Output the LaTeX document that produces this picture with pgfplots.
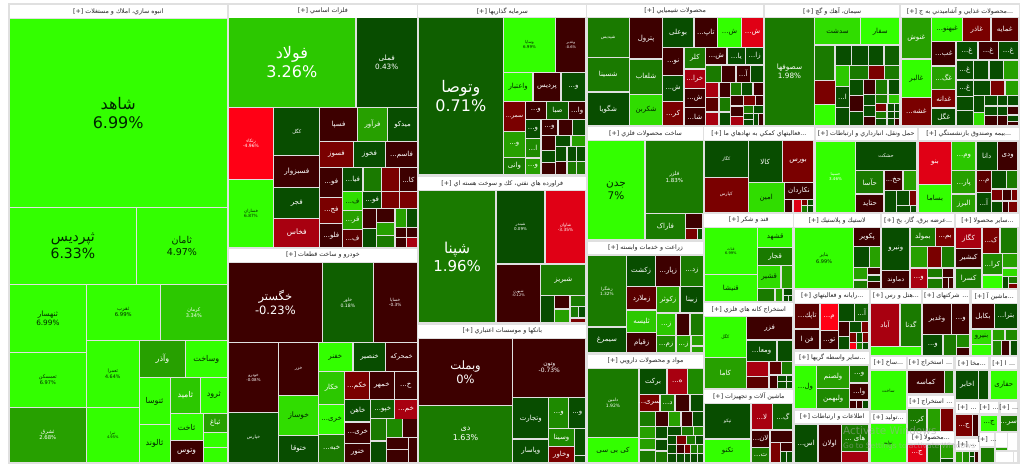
\documentclass[border=0pt]{standalone}
\usepackage{fontspec}
\usepackage{pgfplots}
\pgfplotsset{compat=1.18}
\setmainfont{DejaVu Sans}
\newfontfamily\fa[Script=Arabic]{DejaVu Sans}
\TeXXeTstate=1
\definecolor{a}{HTML}{33FF00}\colorlet{tx-a}{black!75!green!60!black}
\definecolor{w}{HTML}{33FF00}\colorlet{tx-w}{white}
\definecolor{h}{HTML}{30DD00}\colorlet{tx-h}{black!75!green!60!black}
\definecolor{b}{HTML}{2CC800}\colorlet{tx-b}{white}
\definecolor{c}{HTML}{27A000}\colorlet{tx-c}{white}
\definecolor{g}{HTML}{1E8A00}\colorlet{tx-g}{white}
\definecolor{d}{HTML}{1A7A00}\colorlet{tx-d}{white}
\definecolor{e}{HTML}{0F5F00}\colorlet{tx-e}{white}
\definecolor{f}{HTML}{084D00}\colorlet{tx-f}{white}
\definecolor{m}{HTML}{3D0000}\colorlet{tx-m}{white}
\definecolor{l}{HTML}{5A0000}\colorlet{tx-l}{white}
\definecolor{n}{HTML}{7A0000}\colorlet{tx-n}{white}
\definecolor{o}{HTML}{A80010}\colorlet{tx-o}{white}
\definecolor{r}{HTML}{E00015}\colorlet{tx-r}{white}
\definecolor{s}{HTML}{FF0015}\colorlet{tx-s}{white}
\definecolor{k}{HTML}{FFFFFF}\colorlet{tx-k}{black}
\newcommand\Rc[5]{\addplot[draw=none,fill=#5,forget plot] coordinates {(#1,#2)(#3,#2)(#3,#4)(#1,#4)} --cycle;}
\newcommand\Lb[7]{\node[text=tx-#5,inner sep=0pt,font=\fa\fontsize{#6}{#6}\selectfont] at (axis cs:{(#1+#3)/2},{(#2+#4)/2}) {\beginR #7\endR};}
\newcommand\Cp[9]{\Rc{#1}{#2}{#3}{#4}{#5}\node[text=tx-#5,inner sep=0pt,align=center,font=\fa\fontsize{#6}{#8}\selectfont] at (axis cs:{(#1+#3)/2},{(#2+#4)/2}) {\beginR #7\endR\\{\rmfamily #9}};}
\newcommand\Hd[5]{\Rc{#1}{#2}{#3}{#4}{k}\node[text=black!85,inner sep=0pt,font=\fa\fontsize{6.3}{7}\selectfont] at (axis cs:{(#1+#3)/2},{(#2+#4)/2}) {\beginR #5 \beginL{\rmfamily[+]}\endL\endR};}
\newcommand\Cl[7]{\Rc{#1}{#2}{#3}{#4}{#5}\Lb{#1}{#2}{#3}{#4}{#5}{#6}{#7}}
\begin{document}
\begin{tikzpicture}
\begin{axis}[scale only axis,width=1024pt,height=471pt,xmin=0,xmax=1024,ymin=0,ymax=471,y dir=reverse,hide axis,clip=true]
\Rc{0}{0}{1024}{471}{k}
\Rc{8}{3}{1020}{463.5}{black!12}
% group 1
\Hd{9.7}{5}{226.7}{18}{\beginR انبوه سازي، املاك و مستغلات\endR}
\Cp{9.7}{18.5}{226.7}{207}{a}{16}{شاهد}{19}{6.99\%}
\Cp{9.7}{208}{136}{283.5}{a}{14}{ثپردیس}{17}{6.33\%}
\Cp{137}{208}{226.7}{283.5}{a}{9.5}{ثامان}{12}{4.97\%}
\Cp{9.7}{284.5}{86}{352}{a}{7.3}{ثنهسار}{9}{6.99\%}
\Cp{9.7}{353}{86}{407}{a}{5}{ثعمسكن}{6}{6.97\%}
\Cp{9.7}{408}{86}{462}{c}{5.3}{ثشرق}{6.3}{2.68\%}
\Cp{87}{284.5}{159.5}{340}{a}{5.3}{ثقرب}{6.3}{6.99\%}
\Cp{161}{284.5}{226.7}{340}{b}{5}{كرمان}{6}{3.34\%}
\Cp{87}{341}{138.5}{407}{a}{4.8}{ثعمرا}{6}{4.64\%}
\Cp{87}{408}{138.5}{462}{a}{3.6}{ثبرا}{4.5}{4.95\%}
\Cl{140}{341}{185}{377}{c}{8}{وآذر}
\Cl{186}{341}{226.7}{377}{a}{8}{وساخت}
\Cl{139.5}{378}{169.5}{424}{a}{8}{ثنوسا}
\Cl{139.5}{425}{169.5}{462}{a}{8}{ثالوند}
\Cl{170.7}{378}{200}{413}{b}{8}{ثامید}
\Cl{201}{378}{226.7}{413}{a}{8}{ثرود}
\Cl{170.7}{414}{202.5}{440}{a}{8}{ثاخت}
\Cl{170.7}{441}{202.5}{462}{m}{7.5}{وتوس}
\Cl{203.7}{414}{226.7}{432}{c}{7}{ثباغ}
\Rc{203.7}{433}{226.7}{447}{a}
\Rc{203.7}{448}{226.7}{462}{a}
% metals
\Hd{228.7}{5}{417}{17.5}{\beginR فلزات اساسي\endR}
\Cp{228.7}{18.3}{355}{106.7}{b}{16}{فولاد}{19}{3.26\%}
\Cp{356.7}{18.3}{416.7}{106.7}{f}{7.3}{فملی}{9}{0.43\%}
\Cp{228.7}{108}{273.3}{179}{s}{4.5}{رتکاء}{5.5}{-4.96\%}
\Cp{228.7}{180}{273.3}{246.7}{a}{4.3}{فسازان}{5.3}{6.87\%}
\Cl{274.3}{108}{319.3}{155}{f}{5}{کگل}
\Cl{274.3}{156}{319.3}{186.7}{m}{7.2}{فسبزوار}
\Cl{274.3}{188}{319.3}{218.3}{f}{7.2}{فجر}
\Cl{274.3}{219.3}{319.3}{246.7}{o}{7.5}{فخاس}
\Cl{320.3}{108}{356.7}{140.7}{m}{7}{فسپا}
\Cl{357.7}{108}{387.3}{140.7}{c}{7}{فرآور}
\Cl{388.3}{108}{416.7}{140.7}{f}{7}{میدکو}
\Cl{320.3}{141.7}{352.7}{166.7}{n}{7}{فسوز}
\Cl{354}{141.7}{385.3}{166.7}{f}{7}{فخوز}
\Cl{386.3}{141.7}{416.7}{166.7}{m}{7}{فاسم...}
\Cl{320.3}{168}{342.3}{197}{m}{7}{فو...}
\Cl{320.3}{198.3}{342.3}{222.7}{n}{7}{فج...}
\Cl{320.3}{223.7}{342.3}{246.7}{m}{7}{فلو...}
\Cl{343.3}{168}{362.3}{191}{f}{7}{فیا...}
\Rc{363.7}{168}{381.3}{191}{d}
\Rc{382.3}{168}{398.7}{191}{n}
\Cl{400}{168}{416.7}{191}{m}{7}{کا...}
\Cl{343.3}{192}{361.7}{210}{h}{7}{ف...}
\Cl{363}{192}{381.3}{208}{f}{7}{فو...}
\Rc{382.3}{192}{398.7}{208}{n}
\Rc{400}{192}{416.7}{208}{n}
\Cl{343.3}{211.3}{361.7}{229.3}{c}{7}{قر...}
\Cl{343.3}{230.3}{361.7}{246.7}{l}{7}{ف...}
\Rc{362.7}{209.3}{376}{228.3}{m}
\Rc{362.7}{229.3}{376}{246.7}{f}
\Rc{377}{209}{394.3}{221.7}{m}
\Rc{377}{222.7}{394.3}{234.7}{c}
\Rc{377}{235.7}{394.3}{246.7}{d}
\Rc{395.7}{209}{406}{226.7}{c}
\Rc{407}{209}{416.7}{226.7}{f}
\Rc{395.7}{227.7}{406}{236.7}{m}
\Rc{407}{227.7}{416.7}{236.7}{m}
\Rc{395.7}{237.7}{406}{246.7}{m}
\Rc{407}{237.7}{416.7}{246.7}{o}
% auto
\Hd{228.7}{249}{417}{261.7}{\beginR خودرو و ساخت قطعات\endR}
\Cp{228.7}{262.7}{322}{342.3}{m}{11.5}{خگستر}{14}{-0.23\%}
\Cp{323}{262.7}{372.7}{342.3}{e}{4.6}{خاور}{5.6}{0.18\%}
\Cp{373.7}{262.7}{416.7}{342.3}{m}{4.3}{خساپا}{5.3}{-0.3\%}
\Cp{228.7}{343.3}{278.3}{412.3}{m}{4}{خودرو}{5}{-0.08\%}
\Cl{279.3}{343.3}{318}{395}{m}{4.5}{خزر}
\Cl{279.3}{396}{318}{435}{h}{7.5}{خوساز}
\Cl{279.3}{436}{318}{461.7}{f}{7}{ختوقا}
\Cl{228.7}{413.3}{278.3}{461.7}{f}{4.5}{خپارس}
\Cl{319}{343.3}{351.7}{370.7}{a}{7}{خفنر}
\Cl{353.7}{343.3}{385.3}{370.7}{f}{7}{خنصیر}
\Cl{386.3}{343.3}{416.7}{370.7}{m}{6.6}{خمحرکه}
\Cl{319}{371.7}{344.3}{403.7}{b}{7}{خکار}
\Cl{319}{405}{344.3}{433.7}{a}{7}{خری...}
\Cl{319}{435}{344.3}{461.7}{d}{7}{خبه...}
\Cl{345.3}{371.7}{368.7}{399}{n}{7}{خکم...}
\Cl{370}{371.7}{393.7}{399}{m}{7}{خمهر}
\Cl{394.7}{371.7}{416.7}{399}{m}{7}{خ...}
\Cl{345.3}{400}{370.3}{421.3}{f}{7}{خاهن}
\Cl{371.3}{400}{394.3}{418.3}{e}{7}{خپو...}
\Cl{395.3}{400}{416.7}{419}{o}{7}{خم...}
\Cl{345.3}{422.7}{370.3}{442.7}{m}{7}{خری...}
\Cl{345.3}{444}{370.3}{461.7}{m}{7}{خنور}
\Rc{371.3}{419.3}{386}{440.3}{d}
\Rc{371.3}{441.7}{386}{461.7}{f}
\Rc{387.3}{419.3}{401.7}{436.7}{g}
\Rc{402.7}{419.3}{416.7}{436.7}{m}
\Rc{387.3}{437.7}{407.7}{449}{m}
\Rc{387.3}{450.3}{407.7}{461.7}{m}
\Rc{408.7}{437.7}{416.7}{461.7}{m}
% investment
\Hd{418.3}{5}{586.3}{17.3}{\beginR سرمايه گذاريها\endR}
\Cp{419}{18.3}{502.7}{174.3}{e}{16}{وتوصا}{19}{0.71\%}
\Cp{504}{18.3}{555}{71.7}{a}{4}{وساپا}{5}{6.99\%}
\Cp{556.3}{18.3}{585.3}{71.7}{m}{3.6}{وغدیر}{4.5}{-0.6\%}
\Cl{504}{73.3}{532.3}{101}{a}{7}{واعتبار}
\Cl{533.7}{73.3}{560.3}{101}{m}{7}{پردیس}
\Cl{561.7}{73.3}{585.3}{101}{f}{7}{و...}
\Cl{504}{102.3}{524.7}{131}{n}{6}{سمر...}
\Cl{525.7}{102.3}{546}{119}{m}{7}{و...}
\Cl{547.3}{102.3}{567.7}{119}{e}{7}{صبا}
\Cl{569}{102.3}{585.3}{119}{m}{7}{وا...}
\Cl{525.7}{120}{540.3}{138}{f}{7}{و...}
\Cl{541.7}{120}{557.3}{135}{m}{7}{و...}
\Rc{558.7}{120}{571.7}{135}{m}
\Rc{572.7}{120}{585.3}{135}{f}
\Cl{504}{132.3}{524.7}{156.7}{c}{7}{و...}
\Cl{504}{157.7}{524.7}{174.3}{d}{7}{وانی}
\Cl{525.7}{139.3}{540.3}{157.3}{g}{7}{ا...}
\Cl{525.7}{158.7}{540.3}{174.3}{c}{7}{و...}
\Rc{541.7}{136}{554.7}{149.7}{m}
\Rc{541.7}{150.7}{554.7}{162.3}{f}
\Rc{541.7}{163.3}{554.7}{174.3}{m}
\Rc{556}{136}{570.3}{146}{f}
\Rc{571.7}{136}{585.3}{146}{c}
\Rc{556}{147.3}{566.3}{161.3}{f}
\Rc{567.7}{147.3}{576}{161.3}{f}
\Rc{577.3}{147.3}{585.3}{161.3}{f}
\Rc{556}{162.3}{566.3}{174.3}{m}
\Rc{567.7}{162.3}{576}{174.3}{d}
\Rc{577.3}{162.3}{585.3}{174.3}{d}
% oil
\Hd{418.3}{177}{586.3}{190}{\beginR فراورده هاي نفتي، كك و سوخت هسته اي\endR}
\Cp{419}{191}{495.3}{322.3}{d}{15}{شپنا}{18}{1.96\%}
\Cp{496.7}{191}{544.3}{263.3}{f}{4}{شبندر}{5}{0.09\%}
\Cp{545.7}{191}{585.3}{263.3}{r}{4.3}{شاوان}{5.3}{-3.35\%}
\Cp{496.7}{265}{540}{322.3}{m}{3.6}{شبهرن}{4.5}{-0.12\%}
\Cl{541.3}{265}{585.3}{295}{d}{7}{شبریز}
\Rc{541.3}{296.3}{553.7}{322.3}{f}
\Rc{555}{296.3}{569.3}{308.3}{m}
\Rc{555}{309.7}{569.3}{322.3}{c}
\Rc{570.7}{296.3}{585.3}{306}{d}
\Rc{570.7}{307.3}{578.3}{317.3}{d}
\Rc{579.3}{307.3}{585.3}{317.3}{f}
\Rc{570.7}{318.7}{585.3}{322.3}{n}
% banks
\Hd{418.3}{325}{586.3}{337.7}{\beginR بانكها و موسسات اعتباري\endR}
\Cp{419}{338.7}{512}{405}{m}{11.5}{وبملت}{14}{0\%}
\Cp{513.3}{338.7}{585.3}{397}{m}{6}{وتون}{7}{-0.73\%}
\Cp{419}{406}{512}{461.7}{d}{8}{دی}{10}{1.63\%}
\Cl{513.3}{398.3}{548.3}{438.3}{f}{7}{وتجارت}
\Cl{513.3}{439.7}{548.3}{461.7}{f}{7}{وپاسار}
\Cl{549.3}{398.3}{568}{427.7}{g}{7}{و...}
\Cl{569.3}{398.3}{585.3}{427.7}{f}{7}{و...}
\Cl{549.3}{429}{573.7}{445.7}{g}{7}{وسینا}
\Cl{549.3}{447}{573.7}{461.7}{n}{7}{وخاور}
\Rc{575}{429}{585.3}{455}{f}
\Rc{575}{456.3}{585.3}{461.7}{f}
% chem
\Hd{587}{5}{763.3}{17.3}{\beginR محصولات شيميايي\endR}
\Cl{587.7}{18.3}{628.7}{56.7}{d}{4.5}{شپدیس}
\Cl{587.7}{58}{628.7}{91.3}{d}{7}{شسینا}
\Cl{587.7}{92.7}{628.7}{125}{f}{7}{شگویا}
\Cl{630}{18.3}{662}{58.3}{m}{7}{پترول}
\Cl{630}{59.7}{662}{93.7}{d}{7}{شلعاب}
\Cl{630}{95}{662}{125}{h}{7}{شکربن}
\Cl{663}{18.3}{693.3}{46.7}{f}{7}{بوعلی}
\Cl{694.7}{18.3}{717}{46.7}{m}{7}{تاپ...}
\Cl{718.3}{18.3}{740.7}{46.7}{a}{7}{ش...}
\Cl{742}{18.3}{763}{46.7}{r}{7}{ش...}
\Cl{663}{48}{683.3}{75}{m}{7}{نو...}
\Cl{684.7}{48}{705}{68.3}{d}{7}{کلر}
\Cl{684.7}{69.7}{705}{87.7}{o}{7}{خرا...}
\Cl{663}{76.3}{683.3}{101}{f}{7}{ش...}
\Cl{663}{102.3}{683.3}{125}{n}{7}{کر...}
\Cl{684.7}{89}{705}{107}{m}{7}{ش...}
\Cl{684.7}{108.3}{705}{125}{m}{7}{شا...}
\Cl{706.3}{48}{726.3}{64}{m}{7}{ش...}
\Cl{727.7}{48}{745}{64}{f}{7}{یا...}
\Cl{746.3}{48}{763}{64}{f}{7}{زا...}
\Rc{706.3}{65.7}{721}{81.7}{d}
\Rc{722.3}{65.7}{735.3}{81.7}{m}
\Cl{736.7}{65.7}{749.7}{81.7}{m}{7}{آ...}
\Rc{751}{65.7}{763}{81.7}{f}
\Rc{706.3}{83}{718.3}{96.7}{o}
\Rc{719.7}{83}{729.7}{96.7}{m}
\Rc{731}{83}{741}{94.7}{d}
\Rc{742.3}{83}{752.3}{94.7}{f}
\Rc{753.7}{83}{763}{94.7}{m}
\Rc{706.3}{98}{718.3}{111.3}{l}
\Rc{719.7}{98}{729.7}{111.3}{d}
\Rc{706.3}{112.7}{718.3}{125}{o}
\Rc{719.7}{112.7}{729.7}{125}{f}
\Rc{731}{96}{743.3}{105.3}{m}
\Rc{744.3}{96}{754.7}{105.3}{n}
\Rc{756}{96}{763}{105.3}{m}
\Rc{731}{106.7}{743.3}{115.7}{m}
\Rc{744.3}{106}{753}{113.3}{d}
\Rc{754.3}{106}{763}{113.3}{f}
\Rc{731}{116.7}{743.3}{125}{o}
\Rc{744.3}{114.3}{753}{119.3}{f}
\Rc{744.3}{120.3}{753}{125}{f}
\Rc{754.3}{114.3}{758}{125}{f}
\Rc{759}{114.3}{763}{125}{m}
% cement
\Hd{765}{5}{899.3}{17.3}{\beginR سيمان، آهك و گچ\endR}
\Cp{765.3}{18.3}{813.7}{125}{d}{7.3}{سصوفها}{9}{1.98\%}
\Cl{814.7}{18.3}{860.3}{44.3}{h}{7}{سدشت}
\Cl{861.3}{18.3}{899.3}{44.3}{a}{7}{سفار}
\Rc{814.7}{46}{834.3}{80}{d}
\Rc{835.7}{46}{851}{65}{f}
\Rc{852.3}{46}{868}{65}{f}
\Rc{869}{46}{883.3}{65}{f}
\Rc{884.7}{46}{899.3}{65}{e}
\Rc{835.7}{66}{849.3}{85.7}{b}
\Rc{850.3}{66}{868}{79.3}{d}
\Rc{869}{66}{884}{79.3}{n}
\Rc{885}{66}{899.3}{79.3}{d}
\Rc{814.7}{81}{834.7}{104}{n}
\Rc{814.7}{105.3}{834.7}{125}{a}
\Cl{835.7}{87}{849.3}{106.7}{f}{7}{ا...}
\Rc{835.7}{107.7}{849.3}{125}{f}
\Rc{850.3}{80.3}{862.7}{95}{f}
\Rc{850.3}{96.3}{862.7}{111}{m}
\Rc{850.3}{112.3}{862.7}{125}{f}
\Rc{863.7}{80.3}{875}{93.7}{m}
\Rc{876.3}{80.3}{887.3}{93.7}{d}
\Rc{888.7}{80.3}{899.3}{93.7}{f}
\Rc{863.7}{95}{875}{105}{f}
\Rc{876.3}{95}{887.3}{102.7}{d}
\Rc{888.7}{95}{899.3}{102.7}{b}
\Rc{863.7}{106.3}{875}{115.7}{f}
\Rc{863.7}{116.7}{875}{125}{m}
\Rc{876.3}{104}{886.3}{111}{n}
\Rc{876.3}{112.3}{886.3}{118.3}{d}
\Rc{876.3}{119.3}{886.3}{125}{f}
\Rc{887.7}{104}{893.7}{111}{f}
\Rc{894.7}{104}{899.3}{111}{f}
\Rc{887.7}{112.3}{893.7}{118.3}{f}
\Rc{894.7}{112.3}{899.3}{118.3}{f}
\Rc{887.7}{119.3}{893.7}{125}{f}
\Rc{894.7}{119.3}{899.3}{125}{m}
% food
\Hd{901}{5}{1019}{17.3}{\beginR ...محصولات غذايي و آشاميدني به ج\endR}
\Cl{901.7}{18.3}{931}{58.3}{c}{7}{غنوش}
\Cl{901.7}{59.7}{931}{97}{a}{7}{غالبر}
\Cl{901.7}{98.3}{931}{125}{n}{7}{غشه...}
\Cl{932.3}{18.3}{962}{40.7}{a}{7}{غبهنو...}
\Cl{963.3}{18.3}{990.3}{40.7}{n}{7}{غاذر}
\Cl{991.7}{18.3}{1017.7}{40.7}{l}{7}{غمایه}
\Cl{932.3}{42.3}{955.3}{65.3}{m}{7}{غب...}
\Cl{932.3}{66.7}{955.3}{88.7}{c}{7}{غگ...}
\Cl{932.3}{90}{955.3}{107.3}{n}{7}{غدانه}
\Cl{932.3}{108.7}{955.3}{125}{f}{7}{غگل}
\Cl{956.7}{42.3}{977.3}{59.3}{f}{7}{غ...}
\Cl{978.7}{42.3}{997.7}{59.3}{m}{7}{غ...}
\Cl{999}{42.3}{1017.7}{59.3}{f}{7}{غ...}
\Cl{956.7}{60.7}{973}{79.3}{f}{7}{غ...}
\Rc{974.3}{60.7}{988.3}{79.3}{f}
\Rc{989.7}{60.7}{1002.7}{79.3}{f}
\Rc{1004}{60.7}{1017.7}{79.3}{c}
\Cl{956.7}{80.7}{973}{95.7}{f}{7}{غ...}
\Rc{974.3}{80.7}{990}{95}{f}
\Rc{991.3}{80.7}{1004.3}{95}{n}
\Rc{1005.7}{80.7}{1017.7}{95}{c}
\Rc{956.7}{97}{973}{110}{f}
\Rc{956.7}{111.3}{973}{125}{f}
\Rc{974.3}{96.3}{984}{112}{f}
\Rc{974.3}{113}{984}{125}{h}
\Rc{985.3}{96.3}{997}{105.3}{f}
\Rc{998.3}{96.3}{1006.7}{105.3}{f}
\Rc{1008}{96.3}{1017.7}{105.3}{f}
\Rc{985.3}{106.7}{997}{115.3}{f}
\Rc{998.3}{106.7}{1006.7}{115.3}{f}
\Rc{1008}{106.7}{1017.7}{114.3}{m}
\Rc{985.3}{116.3}{997}{125}{m}
\Rc{998.3}{116.3}{1006.7}{125}{m}
\Rc{1008}{115.7}{1017.7}{120.7}{f}
\Rc{1008}{121.7}{1017.7}{125}{m}
% metal products
\Hd{587.7}{127.3}{703.3}{140}{\beginR ساخت محصولات فلزي\endR}
\Cp{587.7}{141.3}{644.3}{239.3}{a}{10.5}{جدن}{13}{7\%}
\Cp{645.7}{141.3}{703}{212.7}{d}{5.5}{فلزر}{7}{1.83\%}
\Cl{645.7}{214}{685}{239.3}{d}{7}{فاراک}
\Rc{686.3}{214}{702.3}{228}{m}
\Rc{686.3}{229}{696.7}{239.3}{n}
\Rc{697.7}{229}{702.3}{239.3}{f}
% support
\Hd{704.3}{127.3}{813.5}{140}{\beginR ...فعاليتهاي كمكي به نهادهاي ما\endR}
\Cl{704.7}{141.3}{747.7}{176.7}{f}{4.5}{کگاز}
\Cl{704.7}{177.7}{747.7}{211.7}{n}{4.5}{کپارس}
\Cl{748.7}{141.3}{781.7}{181.7}{f}{7}{کالا}
\Cl{748.7}{182.7}{783.7}{211.7}{h}{7}{امین}
\Cl{782.7}{141.3}{813.3}{181.7}{n}{7}{بورس}
\Cl{784.7}{182.7}{813.3}{199.3}{m}{7}{نکاردان}
\Rc{784.7}{200}{792.3}{211.7}{m}
\Rc{793.7}{200}{801}{211.7}{r}
\Rc{802}{200}{807.3}{205}{n}
\Rc{802}{206}{807.3}{211.7}{d}
\Rc{808.3}{200}{813.3}{205}{f}
\Rc{808.3}{206}{813.3}{211.7}{f}
% transport
\Hd{815.7}{127.7}{916.7}{140}{\beginR حمل ونقل، انبارداري و ارتباطات\endR}
\Cp{816}{141.7}{855}{211.7}{w}{4}{حسینا}{5}{3.46\%}
\Cl{856.3}{141.7}{915.7}{170}{f}{5}{حشکت}
\Cl{856.3}{171}{883.3}{193.3}{d}{7}{حآسا}
\Cl{856.3}{194.7}{883.3}{211.7}{m}{7}{حتاید}
\Cl{884.7}{171}{902.3}{190}{m}{7}{حخ...}
\Rc{903.7}{171}{915.7}{190}{c}
\Rc{884.7}{191}{895.7}{211.7}{f}
\Rc{897}{191}{909.3}{205}{f}
\Rc{910.3}{191}{915.7}{205}{n}
\Rc{897}{206}{910}{211.7}{f}
\Rc{911}{206}{915.7}{211.7}{f}
% insurance
\Hd{918.7}{127.7}{1019}{140}{\beginR ...بيمه وصندوق بازنشستگي\endR}
\Cl{919}{141.7}{951}{183.7}{r}{7}{بنو}
\Cl{919}{185}{951}{211.7}{a}{7}{بساما}
\Cl{952.3}{141.7}{975.3}{170}{b}{7}{وم...}
\Cl{952.3}{171.3}{975.3}{193.3}{c}{7}{پار...}
\Cl{952.3}{194.7}{975.3}{211.7}{c}{7}{البرز}
\Cl{976.7}{141.7}{996.7}{170}{f}{7}{دانا}
\Cl{998}{141.7}{1017.3}{170}{m}{7}{ودی}
\Cl{976.7}{171.3}{991}{191.7}{l}{7}{م...}
\Cl{976.7}{193}{991}{211.7}{f}{7}{آ...}
\Rc{992}{171.3}{1006}{188.3}{f}
\Rc{1007.3}{171.3}{1017.3}{188.3}{d}
\Rc{992}{189.7}{1002}{200.3}{n}
\Rc{1003.3}{189.7}{1010.7}{200.3}{m}
\Rc{1012}{189.7}{1017.3}{200.3}{n}
\Rc{992}{201.5}{1002}{211.7}{f}
\Rc{1003.3}{201.5}{1008}{211.7}{m}
\Rc{1009}{201.5}{1017.3}{211.7}{n}
% sugar
\Hd{704.3}{214}{793.3}{226.7}{\beginR قند و شكر\endR}
\Cp{705}{228}{756.7}{274}{a}{3.6}{قناث}{4.5}{6.99\%}
\Cl{705}{275.3}{756.7}{301}{a}{7}{قنیشا}
\Cl{758}{228}{792.3}{246.7}{a}{7}{قشهد}
\Cl{758}{248}{792.3}{265}{d}{7}{قجار}
\Cl{758}{266.3}{780.3}{287.7}{h}{7}{قشیر}
\Rc{781.7}{266.3}{792.3}{287.7}{c}
\Rc{758}{288.7}{774.3}{301}{d}
\Rc{775.7}{288.7}{782.3}{301}{c}
\Rc{783.7}{288.7}{792.3}{294.5}{f}
\Rc{783.7}{295.5}{787.5}{301}{f}
\Rc{788.5}{295.5}{792.3}{301}{f}
% plastics
\Hd{794.3}{214.3}{880}{226.7}{\beginR لاستيك و پلاستيك\endR}
\Cp{795}{228}{853.3}{287.7}{a}{5}{بنایر}{7}{6.99\%}
\Cl{854.3}{228}{880}{246}{m}{7}{پکویر}
\Rc{854.3}{247.3}{869.3}{266.7}{f}
\Rc{870.3}{247.3}{880}{266.7}{c}
\Rc{854.3}{268}{866.7}{279.3}{c}
\Rc{854.3}{280.7}{866.7}{287.7}{d}
\Rc{867.7}{268}{880}{274.3}{m}
\Rc{867.7}{275.7}{880}{281.3}{f}
\Rc{867.7}{282.3}{880}{287.7}{m}
% power
\Hd{882.3}{214.3}{954}{226.7}{\beginR ...عرضه برق، گاز، بخ\endR}
\Cl{882.3}{228}{909.3}{270}{f}{7}{ونیرو}
\Cl{882.3}{271.3}{909.3}{287.7}{m}{6.5}{دماوند}
\Cl{910.7}{228}{935}{246}{d}{7}{بمولد}
\Cl{936}{228}{954}{246}{n}{7}{بم...}
\Rc{910.7}{247.3}{926.7}{267.3}{c}
\Rc{927.7}{247.3}{941}{267.3}{n}
\Rc{942}{247.3}{954}{267.3}{d}
\Cl{910.7}{268.7}{926.7}{287.7}{o}{7}{و...}
\Rc{927.7}{268.7}{941.7}{277.3}{d}
\Rc{927.7}{278.7}{941.7}{287.7}{d}
\Rc{942.7}{268.7}{953}{277.3}{m}
\Rc{942.7}{278.3}{948}{287.7}{m}
\Rc{949}{278.3}{953}{287.7}{m}
% other
\Hd{956}{214.3}{1019}{226.7}{\beginR ...سایر محصولا\endR}
\Cl{956}{228}{981}{248}{o}{7}{کگاز}
\Cl{956}{249}{981.3}{267.3}{m}{7}{کبشیر}
\Cl{956}{269.3}{981.3}{287.7}{d}{7}{کسرا}
\Cl{982.7}{228}{999.3}{252.7}{n}{7}{ک...}
\Cl{982.7}{254.3}{1002}{274.3}{g}{7}{کرا...}
\Rc{982.7}{275.7}{1002}{287.7}{a}
\Rc{1000.7}{228}{1016.7}{252.7}{d}
\Rc{1003.3}{254.3}{1016.7}{267.3}{c}
\Rc{1003.3}{268.7}{1016.7}{276}{h}
\Rc{1003.3}{277.3}{1008.3}{287.7}{f}
\Rc{1009.3}{277.3}{1016.7}{282.7}{d}
\Rc{1009.3}{283.7}{1016.7}{287.7}{n}
% mining
\Hd{704.3}{303.3}{793.3}{316}{\beginR استخراج كانه هاي فلزي\endR}
\Cl{705}{317.3}{745.7}{356.7}{a}{4.5}{کگل}
\Cl{705}{358}{745.7}{387.7}{c}{7}{کاما}
\Cl{747}{317.3}{792.3}{339.3}{m}{7}{فزر}
\Cl{747}{340.7}{776.3}{361}{f}{7}{ومعا...}
\Rc{777.7}{340.7}{792.3}{361}{f}
\Rc{747}{362.3}{768.3}{375.7}{o}
\Rc{747}{377}{768.3}{387.7}{l}
\Rc{769.7}{362.3}{781}{374.3}{l}
\Rc{782.3}{362.3}{792.3}{374.3}{d}
\Rc{769.7}{375.7}{777.3}{387.7}{m}
\Rc{778.3}{375.7}{785.7}{381}{f}
\Rc{786.7}{375.7}{792.3}{381}{f}
\Rc{778.3}{382}{785.7}{387.7}{f}
\Rc{786.7}{382}{792.3}{387.7}{f}
% machinery
\Hd{704.3}{390}{793.3}{402.7}{\beginR ماشين آلات و تجهيزات\endR}
\Cl{705}{404}{750.3}{438.3}{f}{4.5}{تپکو}
\Cl{705}{439.7}{750.3}{461.7}{a}{7}{تکنو}
\Cl{751.7}{404}{772}{429.3}{o}{7}{لا...}
\Cl{773.3}{404}{792.3}{429.3}{e}{7}{گ...}
\Cl{751.7}{430.7}{769.3}{446.7}{m}{7}{لان...}
\Cl{751.7}{448}{769.3}{461.7}{d}{7}{ت...}
\Rc{770.7}{430.7}{792.3}{441.7}{m}
\Rc{770.7}{442.7}{780}{461.7}{n}
\Rc{781.3}{442.7}{792.3}{450.7}{m}
\Rc{781.3}{452}{786}{461.7}{f}
\Rc{787.3}{452}{792.3}{461.7}{f}
% farming
\Hd{587.7}{242.3}{703.3}{254.3}{\beginR زراعت و خدمات وابسته\endR}
\Cp{587.7}{255.7}{626}{326.3}{d}{4.3}{زشگرا}{5.3}{1.32\%}
\Cl{587.7}{327.7}{626}{352.3}{f}{7}{سیمرغ}
\Cl{627.3}{255.7}{655}{286}{f}{7}{زکشت}
\Cl{656.3}{255.7}{680}{286}{m}{7}{زپار...}
\Cl{681.3}{255.7}{702.7}{286}{d}{7}{زد...}
\Cl{627.3}{287.3}{656}{309.3}{l}{7}{زملارد}
\Cl{657}{287.3}{679.3}{312.3}{c}{7}{زکوثر}
\Cl{680.7}{287.3}{702.7}{312.3}{f}{7}{زبینا}
\Cl{627.3}{310.7}{656}{332}{b}{7}{ثلیسه}
\Cl{627.3}{333.3}{656}{352.3}{m}{7}{زقیام}
\Cl{657}{313.7}{675.3}{335}{b}{7}{ز...}
\Rc{676.7}{313.7}{689.3}{335}{m}
\Rc{690.7}{313.7}{702.7}{335}{d}
\Cl{657}{336.3}{675.3}{352.3}{g}{7}{زم...}
\Cl{676.7}{336.3}{690.3}{352.3}{c}{7}{ز...}
\Rc{691.7}{336.3}{702.7}{345}{c}
\Rc{691.7}{346.5}{702.7}{352.3}{c}
% pharma
\Hd{587.7}{355}{703.3}{367.7}{\beginR مواد و محصولات دارويي\endR}
\Cp{587.7}{369}{638.3}{436.7}{d}{4.5}{دامین}{5.5}{1.92\%}
\Cl{587.7}{438.3}{638.3}{461.7}{a}{7}{\beginR کی بی سی\endR}
\Cl{639.7}{369}{666.3}{393.7}{f}{7}{برکت}
\Cl{667.7}{369}{687}{393.7}{o}{7}{ه...}
\Rc{688.3}{369}{702.7}{393.7}{g}
\Cl{639.7}{395}{659.3}{411}{n}{7}{سری...}
\Cl{660.7}{395}{674.3}{411}{d}{7}{د...}
\Rc{675.7}{395}{689.3}{411}{m}
\Rc{690.7}{395}{702.7}{411}{f}
\Rc{639.7}{412.3}{655}{425.7}{d}
\Rc{656}{412.3}{668}{425.7}{m}
\Rc{669}{412.3}{680.3}{425.7}{c}
\Rc{681.7}{412.3}{691.7}{425.7}{m}
\Rc{692.7}{412.3}{702.7}{425.7}{f}
\Rc{639.7}{426.7}{655}{437.7}{c}
\Rc{639.7}{439}{655}{449.3}{c}
\Rc{639.7}{450.7}{655}{461.7}{d}
\Rc{656}{426.7}{667.3}{438.3}{f}
\Rc{656}{439.7}{667.3}{450.3}{f}
\Rc{656}{451.7}{667.3}{461.7}{d}
\Rc{668.3}{426.7}{680.7}{435}{f}
\Rc{681.7}{426.7}{692.7}{435}{d}
\Rc{693.7}{426.7}{702.7}{435}{g}
\Rc{668.3}{436.3}{676.3}{444}{f}
\Rc{677.3}{436.3}{686}{444}{n}
\Rc{687}{436.3}{695}{444}{d}
\Rc{696}{436.3}{702.7}{444}{f}
\Rc{668.3}{445}{676.3}{452.7}{f}
\Rc{677.3}{445}{683.7}{452.7}{m}
\Rc{684.7}{445}{690.3}{452.7}{n}
\Rc{691.3}{445}{697}{452.7}{d}
\Rc{698}{445}{702.7}{452.7}{d}
\Rc{668.3}{453.7}{676.3}{461.7}{f}
\Rc{677.3}{453.7}{683.7}{461.7}{f}
\Rc{684.7}{453.7}{690.3}{461.7}{f}
\Rc{691.3}{453.7}{697}{461.7}{f}
\Rc{698}{453.7}{702.7}{461.7}{f}
% computers
\Hd{795}{290}{869.3}{302.7}{\beginR ...رايانه و فعاليتهاي\endR}
\Cl{795}{304}{819.3}{328.3}{l}{7}{تاپك...}
\Cl{795}{330}{819.3}{349}{m}{7}{\beginR فن ا\endR}
\Cl{820.7}{304}{837.7}{330}{s}{7}{م...}
\Cl{820.7}{331.3}{837.7}{349}{m}{7}{تو...}
\Rc{839}{304}{854}{321}{f}
\Cl{855.3}{304}{868.3}{321}{e}{7}{آ...}
\Rc{839}{322.3}{848.7}{336}{m}
\Rc{850}{322.3}{860.7}{331.7}{f}
\Rc{861.7}{322.3}{868.3}{331.7}{n}
\Rc{839}{337.3}{848.7}{349}{f}
\Rc{850}{333}{856}{341.7}{n}
\Rc{857.3}{333}{862.3}{341.7}{f}
\Rc{863.3}{333}{868.3}{341.7}{n}
\Rc{850}{342.7}{856}{349}{s}
\Rc{857.3}{342.7}{862.3}{349}{d}
\Rc{863.3}{342.7}{868.3}{349}{f}
% hotel
\Hd{870.7}{290}{921}{302.7}{\beginR ...هتل و رس\endR}
\Cl{870.7}{304}{899.3}{345.7}{o}{7}{آباد}
\Cl{900.7}{304}{921}{345.7}{d}{7}{گدنا}
\Rc{870.7}{347.3}{921}{355}{a}
% companies
\Hd{923.3}{290}{969.3}{302.7}{\beginR ... شرکتهای\endR}
\Cl{923.3}{304}{950.7}{334}{m}{7}{وغدیر}
\Cl{952}{304}{969.3}{334}{m}{7}{و...}
\Cl{923.3}{335.3}{942.3}{355}{f}{7}{و...}
\Rc{943.7}{335.3}{956}{355}{d}
\Rc{957.3}{335.3}{969.3}{346.7}{g}
\Rc{957.3}{348}{969.3}{355}{m}
% machines 2
\Hd{971.7}{290}{1016.7}{302.7}{\beginR ...ماشین آ\endR}
\Cl{971.7}{304}{994}{328.3}{m}{7}{بکابل}
\Cl{995.3}{304}{1016.7}{328.3}{f}{7}{بترا...}
\Cl{971.7}{329.7}{991.3}{344}{h}{7}{بنیرو}
\Rc{992.7}{329.7}{1004.3}{340}{c}
\Rc{1005.7}{329.7}{1016.7}{340}{g}
\Rc{971.7}{345.3}{991.3}{355}{a}
\Rc{992.7}{341.3}{1000.7}{355}{g}
\Rc{1002}{341.3}{1009.3}{355}{m}
\Rc{1010.5}{341.3}{1016.7}{355}{f}
% brokers
\Hd{795}{351.7}{869.3}{364}{\beginR ...سایر واسطه گریها\endR}
\Cl{795}{365.7}{816}{408.3}{a}{7}{ول...}
\Cl{817.3}{365.7}{849}{387.7}{c}{7}{ولصنم}
\Cl{817.3}{389}{849}{408.3}{g}{7}{ولبهمن}
\Cl{850}{365.7}{868.3}{382.3}{d}{7}{و...}
\Cl{850}{383.7}{868.3}{399.3}{m}{7}{وا...}
\Rc{850}{400.7}{855.7}{408.3}{m}
\Rc{856.7}{400.7}{862.3}{408.3}{m}
\Rc{863.3}{400.7}{868.3}{408.3}{f}
% IT
\Hd{795}{410.7}{869.3}{423.3}{\beginR اطلاعات و ارتباطات\endR}
\Cl{795}{424.7}{817.3}{461.7}{f}{7}{اس...}
\Cl{818.7}{424.7}{840.7}{461.7}{m}{7}{اولان}
\Cl{842}{424.7}{868.3}{451}{d}{7}{\beginR های ...\endR}
\Rc{842}{452.3}{868.3}{461.7}{o}
% production / misc
\Hd{870.7}{357.3}{906}{369.3}{...ساخ}
\Cl{870.7}{371}{906}{410}{a}{4.5}{ساخت}
\Hd{870.7}{412.5}{906}{423}{...تولید}
\Cl{870.7}{424}{905.7}{461.7}{a}{4.5}{تولید}
\Hd{907.7}{357.3}{953.3}{369.3}{\beginR ... استخراج\endR}
\Cl{907.7}{371}{944}{393.3}{m}{7}{کماسه}
\Rc{945}{371}{953.3}{393.3}{d}
\Hd{907.7}{396}{954}{407.3}{\beginR ... استخراج\endR}
\Cl{907.7}{409.3}{926.3}{431}{d}{7}{کر...}
\Rc{927.7}{409.3}{940}{431}{c}
\Rc{941.3}{409.3}{953.3}{431}{n}
\Hd{907.7}{431.7}{954}{443.3}{...محصولا}
\Cl{907.7}{445}{926.3}{461.7}{r}{7}{ج...}
\Rc{927.7}{445}{939.7}{461.7}{d}
\Rc{941}{445}{953.3}{458}{c}
\Rc{941}{459}{953.3}{461.7}{f}
\Hd{955.7}{357.3}{988.3}{369.3}{...مخا}
\Cl{956.3}{371}{978.3}{399.3}{f}{7}{اخابر}
\Rc{979.3}{371}{988.3}{399.3}{f}
\Hd{990.7}{357.3}{1016.7}{369.3}{\beginR ... ا\endR}
\Cl{990.7}{371}{1016.7}{399.3}{a}{7}{حفاری}
\Hd{955.7}{401.7}{978.5}{413.3}{...}
\Cl{956.3}{415.3}{971.7}{436}{n}{7}{ج...}
\Rc{972.7}{415.3}{978.3}{436}{m}
\Hd{980}{401.7}{998.3}{413.3}{...}
\Cl{980.7}{415.7}{997.3}{431}{a}{7}{ج...}
\Hd{1000.7}{401.7}{1016.7}{413.3}{...}
\Cl{1000.7}{415.7}{1016.7}{431}{d}{7}{سر...}
\Hd{955.7}{439}{978.5}{450}{...}
\Rc{956.3}{451.7}{962.3}{461.7}{c}
\Rc{963.3}{451.7}{968.5}{461.7}{g}
\Rc{969.5}{451.7}{974}{456}{f}
\Rc{969.5}{457}{974}{461.7}{f}
\Rc{975}{451.7}{978.3}{461.7}{m}
\Hd{980}{433.3}{994}{446}{...}
\Rc{980.7}{447.7}{994}{461.7}{d}
\Rc{996}{433.3}{1006.7}{447}{k}
\Rc{996}{447.5}{1006.7}{450}{c}
\Rc{1008.3}{433.3}{1016.7}{450}{k}
\Rc{996}{451.7}{1013}{461.7}{k}
\Rc{1014}{451.7}{1016.7}{461.7}{k}
\node[text=black!35,opacity=.55,inner sep=0pt,anchor=west,font=\fontsize{10.5}{12}\selectfont] at (axis cs:843,431) {Activate Windows};
\node[text=black!35,opacity=.55,inner sep=0pt,anchor=west,font=\fontsize{7.5}{9}\selectfont] at (axis cs:843,446) {Go to Settings to activate Windows};
\end{axis}
\end{tikzpicture}
\end{document}
